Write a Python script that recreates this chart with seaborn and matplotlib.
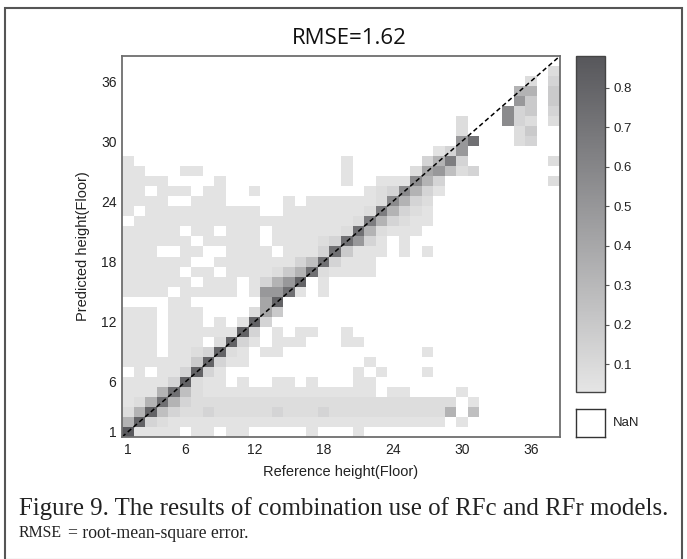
import numpy as np
import pandas as pd
import matplotlib
matplotlib.use("Agg")
import matplotlib.pyplot as plt
from matplotlib.colors import LinearSegmentedColormap
from matplotlib.patches import Rectangle
import seaborn as sns

# ---------------- data ----------------
floors = list(range(1, 39))                 # reference / predicted floor classes
tick_floors = [1, 6, 12, 18, 24, 30, 36]
title_text = "RMSE=1.62"

# value code per cell ('.' = NaN / no sample)
level_values = {
    "a": 0.04, "b": 0.08, "c": 0.13, "d": 0.19, "e": 0.26, "f": 0.33,
    "g": 0.41, "h": 0.49, "i": 0.57, "j": 0.65, "k": 0.73, "l": 0.81, "m": 0.87,
}

# rows: predicted floor 38 (top) ... 1 (bottom); columns: reference floor 1..38
rows_pred38_to_1 = [
    "......................................",  # 38
    ".....................................b",  # 37
    "...................................b.c",  # 36
    "..................................ff.d",  # 35
    "..................................hd.d",  # 34
    ".................................icd.c",  # 33
    ".............................b...icb.b",  # 32
    ".............................b....bd..",  # 31
    ".............................hk...bc..",  # 30
    "...........................ach........",  # 29
    "a..................a......cfjc.......b",  # 28
    "aa...aa............a.....bghebc.......",  # 27
    "aaaa....a..........a..aaaifc.........b",  # 26
    "aa.aaa.aa..a.........abcifca..........",  # 25
    "aaaa..aaa.....a.aaaaaabifcb...........",  # 24
    "a.aaaaaaaaaa..aaaaaaabjfcba...........",  # 23
    ".aaaaaaaaaaaaaaaaaaabjfcbaa...........",  # 22
    "aaaaa.aa.aaa.aaaaaabkfbaaa............",  # 21
    "aaaaaa.aaaaa.aaaabckhca.a.............",  # 20
    "aaa..aa..aaaa.aaackdaaa.a.a...........",  # 19
    "aaaaaa..aaaaaaacekcaaa................",  # 18
    "aaaaa.aa.aaaabdfkbaaaa................",  # 17
    "aaaaaa.aaa.acfhl.a....................",  # 16
    "aaaa.aaaaa.ahhka.a....................",  # 15
    "....aa......gl........................",  # 14
    "aaa.aaa....bgd........................",  # 13
    "aaa.aaa.a.alc.........................",  # 12
    "aaa.aaaaaalc.a.aa..a..................",  # 11
    "aaa.aaa.blca.aaa...aa.................",  # 10
    "aaa.aabclba.aa............a...........",  # 9
    "aaaaaadlcaa..........a................",  # 8
    ".a.aaclca...........a.a...a...........",  # 7
    "aaaaclbaa.a..aa.a...aa................",  # 6
    "aaafkebaaaaaaaaaaaaaaa.aa....a........",  # 5
    "abfkfcbbbbbbbbbbbbbbbbbbbbbbb.a.......",  # 4
    "bflecbbcbbbbbcbbbcbbbbbbbbbbf.e.......",  # 3
    "flcbaaaaaaaaaaaaaaaaaaaaaaaa.a........",  # 2
    "maaaa.aa.aa.....a...a.................",  # 1
]

pred_floors_top_down = floors[::-1]
matrix = [[level_values.get(ch, np.nan) for ch in row] for row in rows_pred38_to_1]
df = pd.DataFrame(matrix, index=pred_floors_top_down, columns=floors)

# ---------------- figure ----------------
W, H = 687, 559
fig = plt.figure(figsize=(W / 100, H / 100), dpi=100)

def fx(px):
    return px / W

def fy(py):
    return 1 - py / H

ax = fig.add_axes([fx(122), fy(437), fx(560) - fx(122), fy(56) - fy(437)])
cax = fig.add_axes([fx(576), fy(392), fx(605) - fx(576), fy(56) - fy(392)])
nax = fig.add_axes([fx(576), fy(437), fx(605) - fx(576), fy(409) - fy(437)])

cmap = LinearSegmentedColormap.from_list("grays", ["#e5e5e5", "#57575b"])

sns.heatmap(df, ax=ax, cmap=cmap, vmin=0.03, vmax=0.88, cbar=True, cbar_ax=cax,
            square=False, linewidths=0, xticklabels=False, yticklabels=False)

# ticks at cell centres
xt = [floors.index(f) + 0.5 for f in tick_floors]
yt = [pred_floors_top_down.index(f) + 0.5 for f in tick_floors]
ax.set_xticks(xt)
ax.set_xticklabels([str(f) for f in tick_floors], fontsize=10, family="Liberation Sans",
                   color="#222222")
ax.set_yticks(yt)
ax.set_yticklabels([str(f) for f in tick_floors], fontsize=10, family="Liberation Sans",
                   color="#222222", rotation=0)
ax.tick_params(axis="both", length=0, pad=4)

# diagonal 1:1 line
n = len(floors)
ax.plot([0, n], [n, 0], color="black", linestyle=(0, (3, 2)), linewidth=1.1)

for sp in ax.spines.values():
    sp.set_visible(True)
    sp.set_color("#6e6e6e")
    sp.set_linewidth(1.3)

ax.set_xlabel("Reference height(Floor)", fontsize=10.5, family="Liberation Sans",
              color="#222222", labelpad=6)
ax.set_ylabel("Predicted height(Floor)", fontsize=10.5, family="Liberation Sans",
              color="#222222", labelpad=8)
fig.text(fx(349), fy(39), title_text, fontsize=16, family="Open Sans", color="#111111",
         ha="center", va="center")

# colorbar
cax.set_yticks([0.1, 0.2, 0.3, 0.4, 0.5, 0.6, 0.7, 0.8])
cax.set_yticklabels(["0.1", "0.2", "0.3", "0.4", "0.5", "0.6", "0.7", "0.8"],
                    fontsize=9.5, family="Liberation Sans", color="#222222")
cax.tick_params(axis="y", length=3, width=0.8, color="#555555", pad=3)
cbar = ax.collections[0].colorbar
cbar.outline.set_edgecolor("#444444")
cbar.outline.set_linewidth(1.0)

# NaN legend box
nax.set_xticks([])
nax.set_yticks([])
nax.set_facecolor("white")
for sp in nax.spines.values():
    sp.set_color("#333333")
    sp.set_linewidth(1.0)
nax.text(1.28, 0.5, "NaN", transform=nax.transAxes, va="center", ha="left",
         fontsize=9.5, family="Liberation Sans", color="#222222")

# outer frame of the figure panel
fig.add_artist(Rectangle((fx(5), fy(560)), fx(682) - fx(5), fy(8) - fy(560),
                         transform=fig.transFigure, fill=False,
                         edgecolor="#555555", linewidth=1.5))

# caption
fig.text(fx(19), fy(509), "Figure 9. The results of combination use of RFc and RFr models.",
         fontsize=17.9, family="Liberation Serif", color="#222222", va="center", ha="left")
fig.text(fx(19), fy(533), "RMSE", fontsize=11.4, family="Liberation Serif",
         color="#222222", va="center", ha="left")
fig.text(fx(68), fy(533), "= root-mean-square error.", fontsize=12.7, family="Liberation Serif",
         color="#222222", va="center", ha="left")

fig.savefig("out.png", dpi=100)
